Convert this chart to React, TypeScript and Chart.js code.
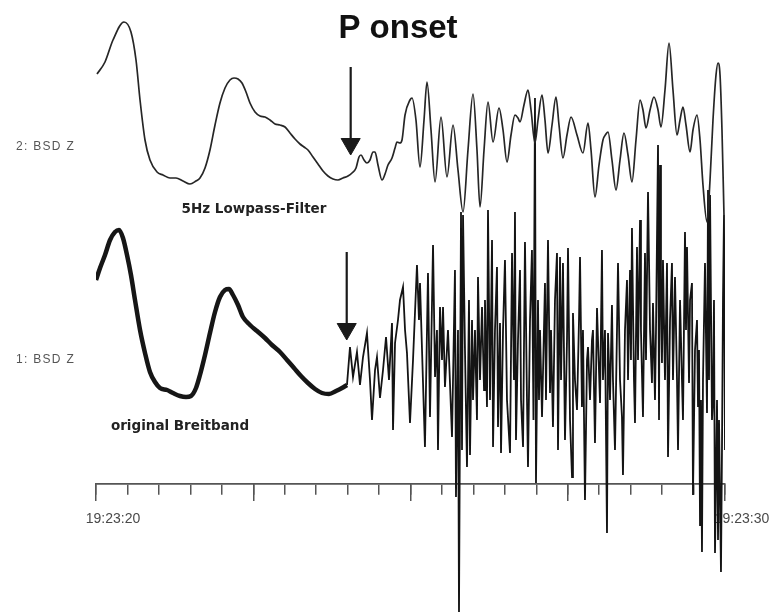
import React, { useEffect, useRef } from "react";
import { Chart, registerables } from "chart.js";

Chart.register(...registerables);

// ---- time axis (seconds after 19:23:20) ----
const minorTicks = [0, 0.5, 1, 1.5, 2, 2.5, 3, 3.5, 4, 4.5, 5, 5.5, 6, 6.5, 7, 7.5, 8, 8.5, 9, 9.5, 10];
const majorTicks = [0, 2.5, 5, 7.5, 10];
const tickLabels: Record<number, string> = { 0: "19:23:20", 10: "19:23:30" };

// ---- station labels and trace baselines (counts on the shared amplitude axis) ----
const stationNames = ["2: BSD Z", "1: BSD Z"];
const TOP_BASE = 338;
const BOTTOM_BASE = 125;

// ---- trace 2: BSD Z, 5 Hz lowpass ----
const lpTime = [0.016,0.143,0.270,0.445,0.556,0.636,0.700,0.779,0.858,0.970,1.065,1.176,1.272,1.383,1.494,1.590,1.653,1.733,1.812,1.892,1.971,2.051,2.130,2.194,2.258,2.321,2.385,2.448,2.528,2.607,2.687,2.766,2.846,2.925,3.005,3.084,3.164,3.243,3.307,3.370,3.450,3.529,3.609,3.688,3.768,3.847,3.927,4.006,4.070,4.134,4.181,4.213,4.261,4.308,4.356,4.404,4.436,4.483,4.547,4.595,4.642,4.706,4.754,4.785,4.833,4.865,4.913,4.992,5.024,5.087,5.151,5.215,5.262,5.326,5.390,5.485,5.580,5.676,5.755,5.835,5.914,5.994,6.057,6.105,6.169,6.232,6.312,6.407,6.471,6.534,6.598,6.661,6.709,6.741,6.804,6.868,6.916,6.979,7.027,7.091,7.138,7.186,7.250,7.313,7.361,7.424,7.488,7.552,7.647,7.742,7.822,7.870,7.933,7.997,8.060,8.108,8.140,8.203,8.267,8.331,8.394,8.458,8.521,8.585,8.649,8.696,8.744,8.808,8.871,8.935,8.982,9.046,9.110,9.173,9.237,9.285,9.332,9.380,9.444,9.491,9.555,9.603,9.650,9.714,9.762,9.809,9.857,9.889,9.921,9.952,9.984];
const lpAmp = [72,84,106,124,114,86,46,6,-14,-26,-29,-32,-32,-35,-38,-35,-32,-22,-4,21,43,58,66,68,67,63,54,43,34,30,29,26,22,21,19,13,7,2,-1,-4,-11,-18,-25,-30,-33,-34,-32,-30,-27,-22,-11,-9,-14,-17,-14,-6,-6,-19,-34,-28,-19,-12,-2,4,3,6,31,46,48,26,-21,26,64,16,-36,29,-31,21,-24,-66,-4,52,-4,-61,-4,44,4,38,16,-16,11,31,28,24,41,56,36,3,26,51,26,-7,21,49,21,-12,11,29,11,-7,23,-4,-51,-19,6,12,14,-14,-44,-14,13,-9,-36,6,46,36,18,36,49,36,19,56,103,56,11,26,39,21,-6,16,31,6,-39,-76,-34,26,71,83,71,16,-69];

// ---- trace 1: BSD Z, original broadband (before onset) ----
const bbPreTime = [0,0.064,0.143,0.223,0.302,0.366,0.429,0.493,0.556,0.620,0.700,0.779,0.858,0.938,1.017,1.129,1.224,1.335,1.431,1.510,1.590,1.653,1.733,1.812,1.892,1.971,2.051,2.114,2.178,2.258,2.337,2.448,2.560,2.687,2.798,2.925,3.037,3.148,3.259,3.370,3.482,3.593,3.704,3.816,3.911,3.990];
const bbPreAmp = [79,91,104,119,127,129,121,104,84,59,29,6,-13,-23,-29,-31,-34,-37,-38,-37,-29,-16,4,26,47,62,69,70,64,54,42,34,28,21,14,7,-1,-9,-17,-24,-30,-34,-35,-32,-29,-26];

// ---- trace 1: BSD Z, original broadband (after onset) ----
const bbPostTime = [3.990,4.038,4.086,4.149,4.197,4.245,4.308,4.356,4.388,4.436,4.467,4.515,4.563,4.611,4.658,4.706,4.722,4.754,4.801,4.833,4.881,4.913,4.944,4.992,5.040,5.103,5.135,5.151,5.199,5.230,5.278,5.310,5.358,5.390,5.421,5.437,5.469,5.501,5.517,5.548,5.596,5.660,5.707,5.723,5.755,5.771,5.803,5.819,5.835,5.866,5.898,5.930,5.946,5.978,5.994,6.025,6.057,6.073,6.105,6.137,6.169,6.184,6.216,6.232,6.264,6.296,6.312,6.343,6.375,6.391,6.423,6.439,6.471,6.502,6.534,6.582,6.614,6.645,6.661,6.677,6.709,6.741,6.757,6.789,6.820,6.852,6.868,6.900,6.931,6.955,6.979,6.995,7.027,7.043,7.059,7.091,7.138,7.154,7.186,7.218,7.234,7.265,7.297,7.329,7.345,7.377,7.393,7.424,7.456,7.488,7.504,7.536,7.568,7.583,7.615,7.647,7.679,7.695,7.726,7.742,7.774,7.806,7.822,7.854,7.885,7.901,7.933,7.965,8.013,8.044,8.060,8.092,8.124,8.140,8.172,8.203,8.219,8.251,8.283,8.299,8.331,8.362,8.378,8.410,8.442,8.458,8.490,8.505,8.521,8.553,8.569,8.601,8.617,8.649,8.664,8.696,8.728,8.744,8.776,8.808,8.839,8.855,8.887,8.903,8.935,8.951,8.967,8.982,8.998,9.014,9.046,9.078,9.094,9.126,9.157,9.173,9.205,9.237,9.253,9.285,9.316,9.332,9.364,9.380,9.396,9.428,9.444,9.475,9.491,9.523,9.555,9.571,9.587,9.603,9.618,9.634,9.650,9.682,9.714,9.730,9.746,9.762,9.793,9.809,9.825,9.841,9.873,9.889,9.905,9.936,9.952,9.968,9.984,10.000];
const bbPostAmp = [-26,12,-18,7,-26,2,26,-21,-61,-11,2,-39,-11,22,-21,36,-71,16,39,59,72,29,6,-64,-1,94,39,76,-24,-88,86,-58,114,-18,29,-91,52,-1,52,-28,29,-78,89,-138,29,-253,147,-91,144,9,-108,59,-96,39,-41,29,-61,82,-21,52,-31,59,-48,149,-41,119,-88,29,92,-68,36,-94,29,99,-41,-94,106,-21,147,-81,19,89,-41,-88,117,-41,-108,39,109,-61,261,-124,59,-41,29,-58,76,-41,119,-34,29,-68,59,106,-91,102,-21,96,-81,19,111,-61,-118,46,-21,-51,39,102,-48,29,-141,-1,12,-41,19,29,-84,51,-44,109,-21,29,-174,26,-41,54,-21,-91,29,96,-21,-58,-116,29,79,-21,89,-1,131,-21,-64,112,-1,139,29,-58,106,-1,167,29,-24,56,-41,29,214,-61,194,59,-4,99,-21,96,-98,39,96,-21,82,-21,-91,59,-21,-61,127,29,112,-24,59,76,-136,9,39,-48,9,-166,-41,-193,-21,96,-54,169,-21,164,-61,-41,59,-194,-41,-181,-61,-213,-91,59,144,-91];

// ---- P onset arrows (time, tail value, tip value) ----
const arrowTime = [4.049, 3.986];
const arrowTail = [417, 232];
const arrowTip = [329, 144];
const HEAD_R = 11;

const annotationPlugin = {
  id: "seismoAnnotations",
  afterDraw(chart: any) {
    const ctx = chart.ctx as CanvasRenderingContext2D;
    const yS = chart.scales.y;
    ctx.save();
    ctx.fillStyle = "#111";
    ctx.textAlign = "center";
    ctx.textBaseline = "alphabetic";
    ctx.font = 'bold 33px "Liberation Sans", Arial, sans-serif';
    ctx.fillText("P onset", 398, 38);
    ctx.fillStyle = "#222";
    ctx.font = 'bold 13.5px "DejaVu Sans", sans-serif';
    ctx.fillText("5Hz Lowpass-Filter", 254, 213);
    ctx.fillText("original Breitband", 180, 430);
    ctx.fillStyle = "#555";
    ctx.textAlign = "left";
    ctx.textBaseline = "middle";
    ctx.font = '12px "Liberation Sans", Arial, sans-serif';
    (ctx as any).letterSpacing = "1.3px";
    ctx.fillText(stationNames[0], 16, yS.getPixelForValue(TOP_BASE) + 1);
    ctx.fillText(stationNames[1], 16, yS.getPixelForValue(BOTTOM_BASE) + 1);
    (ctx as any).letterSpacing = "0px";
    ctx.restore();
  },
};

export default function App() {
  const ref = useRef<HTMLCanvasElement | null>(null);

  useEffect(() => {
    if (!ref.current) return;
    const lp = lpTime.map((t, i) => ({ x: t, y: TOP_BASE + lpAmp[i] }));
    const pre = bbPreTime.map((t, i) => ({ x: t, y: BOTTOM_BASE + bbPreAmp[i] }));
    const post = bbPostTime.map((t, i) => ({ x: t, y: BOTTOM_BASE + bbPostAmp[i] }));
    const shafts = arrowTime.map((t, i) => ({
      type: "line" as const,
      data: [
        { x: t, y: arrowTail[i] },
        { x: t, y: arrowTip[i] + HEAD_R },
      ],
      borderColor: "#1a1a1a",
      borderWidth: 2.2,
      pointRadius: 0,
      tension: 0,
    }));
    const heads = {
      type: "line" as const,
      data: arrowTime.map((t, i) => ({ x: t, y: arrowTip[i] + HEAD_R })),
      showLine: false,
      pointStyle: "triangle",
      rotation: 180,
      pointRadius: HEAD_R,
      pointBackgroundColor: "#1a1a1a",
      pointBorderColor: "#1a1a1a",
      pointBorderWidth: 1,
    };

    const chart = new Chart(ref.current, {
      type: "line",
      data: {
        datasets: [
          {
            label: "2: BSD Z",
            data: lp,
            borderColor: "#262626",
            borderWidth: 1.7,
            pointRadius: 0,
            cubicInterpolationMode: "monotone",
          },
          {
            label: "1: BSD Z pre",
            data: pre,
            borderColor: "#161616",
            borderWidth: 4.5,
            pointRadius: 0,
            cubicInterpolationMode: "monotone",
            borderJoinStyle: "round",
          },
          {
            label: "1: BSD Z",
            data: post,
            borderColor: "#141414",
            borderWidth: 1.8,
            pointRadius: 0,
            tension: 0,
          },
          ...shafts,
          heads,
        ] as any,
      },
      options: {
        animation: false,
        responsive: false,
        events: [],
        layout: { autoPadding: false, padding: { left: 96, right: 53, top: 0, bottom: 0 } },
        plugins: { legend: { display: false }, tooltip: { enabled: false }, title: { display: false } },
        scales: {
          y: { type: "linear", display: false, min: -131, max: 484 },
          x: {
            type: "linear",
            min: 0,
            max: 10,
            position: { y: 0 } as any,
            afterBuildTicks: (s: any) => {
              s.ticks = minorTicks.map((v) => ({ value: v }));
            },
            ticks: { autoSkip: false, maxRotation: 0, padding: 0, callback: () => "", font: { size: 1 } },
            grid: { drawOnChartArea: false, tickLength: 10, color: "#555", lineWidth: 1.5 },
            border: { display: true, color: "#555", width: 1.8 },
          },
          x2: {
            type: "linear",
            axis: "x",
            min: 0,
            max: 10,
            position: { y: 0 } as any,
            afterBuildTicks: (s: any) => {
              s.ticks = majorTicks.map((v) => ({ value: v }));
            },
            ticks: {
              autoSkip: false,
              maxRotation: 0,
              padding: 10,
              labelOffset: 17,
              color: "#4a4a4a",
              font: { family: '"Liberation Sans", Arial, sans-serif', size: 14 },
              callback: (v: any) => tickLabels[Number(v)] ?? "",
            },
            grid: { drawOnChartArea: false, tickLength: 17, color: "#555", lineWidth: 1.5 },
            border: { display: false },
          },
        } as any,
      },
      plugins: [annotationPlugin],
    });
    return () => chart.destroy();
  }, []);

  return (
    <div style={{ position: "fixed", left: 0, top: 0, width: 778, height: 615, background: "#fff" }}>
      <canvas ref={ref} width={778} height={615} style={{ display: "block" }} />
    </div>
  );
}
